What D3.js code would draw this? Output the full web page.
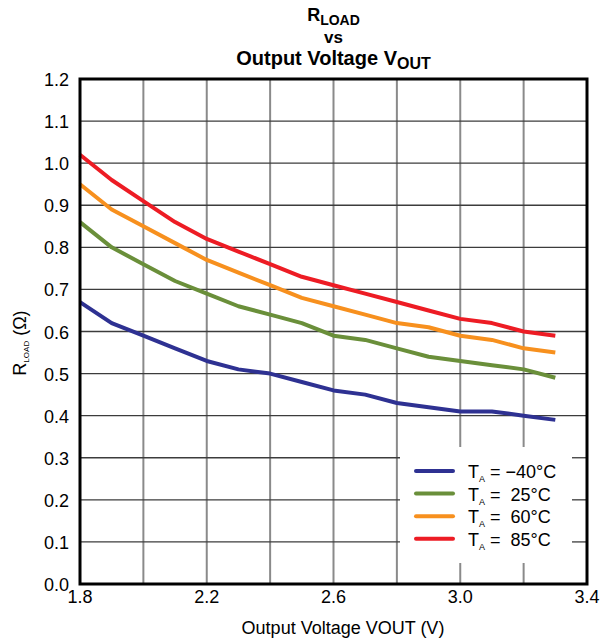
<!DOCTYPE html>
<html lang="en">
<head>
  <meta charset="UTF-8" />
  <title>RLOAD vs Output Voltage</title>
  <script src="https://d3js.org/d3.v7.min.js"></script>
  <style>
    body { margin: 0; background: #fff; }
    svg { display: block; font-family: "Liberation Sans", Arial, sans-serif; }
    .tick-label { font-size: 18px; fill: #000; }
  </style>
</head>
<body>
  <svg id="chart" width="600" height="638"></svg>
  <script>
    // data
    const vout = [1.8, 1.9, 2.0, 2.1, 2.2, 2.3, 2.4, 2.5, 2.6, 2.7, 2.8, 2.9, 3.0, 3.1, 3.2, 3.3];
    const rMinus40 = [0.67, 0.62, 0.59, 0.56, 0.53, 0.51, 0.50, 0.48, 0.46, 0.45, 0.43, 0.42, 0.41, 0.41, 0.40, 0.39];
    const r25 = [0.86, 0.80, 0.76, 0.72, 0.69, 0.66, 0.64, 0.62, 0.59, 0.58, 0.56, 0.54, 0.53, 0.52, 0.51, 0.49];
    const r60 = [0.95, 0.89, 0.85, 0.81, 0.77, 0.74, 0.71, 0.68, 0.66, 0.64, 0.62, 0.61, 0.59, 0.58, 0.56, 0.55];
    const r85 = [1.02, 0.96, 0.91, 0.86, 0.82, 0.79, 0.76, 0.73, 0.71, 0.69, 0.67, 0.65, 0.63, 0.62, 0.60, 0.59];
    const seriesTemps = ["\u221240", "25", "60", "85"];
    const seriesColors = ["#2e3192", "#6a8f3a", "#f7901e", "#ed1c24"];
    const xTickLabels = ["1.8", "2.2", "2.6", "3.0", "3.4"];
    const xGrid = [2.0, 2.2, 2.4, 2.6, 2.8, 3.0, 3.2];
    const yTickLabels = ["0.0", "0.1", "0.2", "0.3", "0.4", "0.5", "0.6", "0.7", "0.8", "0.9", "1.0", "1.1", "1.2"];

    const series = [rMinus40, r25, r60, r85].map((vals, i) => ({
      temp: seriesTemps[i],
      color: seriesColors[i],
      points: vals.map((v, j) => [vout[j], v])
    }));

    const svg = d3.select("#chart");
    const pl = 80, pr = 587, pt = 79, pb = 584;

    const x = d3.scaleLinear().domain([1.8, 3.4]).range([pl, pr]);
    const y = d3.scaleLinear().domain([0, 1.2]).range([pb, pt]);

    // legend box area (gridlines are hidden behind it)
    const legBox = { x0: 400, x1: 572, y0: 447, y1: 563 };

    // grid
    const grid = svg.append("g");
    xGrid.forEach(v => {
      const px = x(v);
      const segs = (px > legBox.x0 && px < legBox.x1)
        ? [[pt, legBox.y0], [legBox.y1, pb]]
        : [[pt, pb]];
      segs.forEach(s => grid.append("line")
        .attr("x1", px).attr("x2", px).attr("y1", s[0]).attr("y2", s[1])
        .attr("stroke", "#8a8a8a").attr("stroke-width", 2));
    });
    yTickLabels.slice(1, -1).forEach(t => {
      const py = y(+t);
      const segs = (py > legBox.y0 && py < legBox.y1)
        ? [[pl, legBox.x0], [legBox.x1, pr]]
        : [[pl, pr]];
      segs.forEach(s => grid.append("line")
        .attr("x1", s[0]).attr("x2", s[1]).attr("y1", py).attr("y2", py)
        .attr("stroke", "#3c3c3c").attr("stroke-width", 1.3));
    });

    // curves
    const line = d3.line().x(d => x(d[0])).y(d => y(d[1]));
    svg.append("g").selectAll("path")
      .data(series)
      .join("path")
      .attr("d", d => line(d.points))
      .attr("fill", "none")
      .attr("stroke", d => d.color)
      .attr("stroke-width", 4)
      .attr("stroke-linejoin", "round");

    // frame
    svg.append("rect")
      .attr("x", pl).attr("y", pt)
      .attr("width", pr - pl).attr("height", pb - pt)
      .attr("fill", "none").attr("stroke", "#000").attr("stroke-width", 3);

    // tick labels
    svg.append("g").selectAll("text")
      .data(yTickLabels)
      .join("text")
      .attr("class", "tick-label")
      .attr("x", pl - 11)
      .attr("y", d => y(+d) + 7)
      .attr("text-anchor", "end")
      .text(d => d);

    svg.append("g").selectAll("text")
      .data(xTickLabels)
      .join("text")
      .attr("class", "tick-label")
      .attr("x", d => x(+d))
      .attr("y", 603)
      .attr("text-anchor", "middle")
      .text(d => d);

    // axis titles
    svg.append("text")
      .attr("x", 343).attr("y", 634)
      .attr("text-anchor", "middle")
      .attr("font-size", 18)
      .text("Output Voltage VOUT (V)");

    const yl = svg.append("text")
      .attr("transform", "translate(26,343) rotate(-90)")
      .attr("text-anchor", "middle")
      .attr("font-size", 18);
    yl.append("tspan").text("R");
    yl.append("tspan").attr("font-size", 8).attr("dy", 3).text("LOAD");
    yl.append("tspan").attr("dy", -3).text(" (\u03a9)");

    // title
    const tx = (pl + pr) / 2;
    const t1 = svg.append("text").attr("x", tx).attr("y", 21)
      .attr("text-anchor", "middle").attr("font-weight", "bold").attr("font-size", 18);
    t1.append("tspan").text("R");
    t1.append("tspan").attr("font-size", 14).attr("dy", 4).text("LOAD");
    svg.append("text").attr("x", tx).attr("y", 43)
      .attr("text-anchor", "middle").attr("font-weight", "bold").attr("font-size", 17)
      .text("vs");
    const t3 = svg.append("text").attr("x", tx).attr("y", 65)
      .attr("text-anchor", "middle").attr("font-weight", "bold").attr("font-size", 20);
    t3.append("tspan").text("Output Voltage V");
    t3.append("tspan").attr("font-size", 16).attr("dy", 4).text("OUT");

    // legend
    const legend = svg.append("g");
    series.forEach((s, i) => {
      const ly = 471 + i * 22.6;
      legend.append("line")
        .attr("x1", 416).attr("x2", 453).attr("y1", ly).attr("y2", ly)
        .attr("stroke", s.color).attr("stroke-width", 4).attr("stroke-linecap", "round");
      const lt = legend.append("text").attr("x", 468).attr("y", ly + 7).attr("font-size", 18)
        .style("white-space", "pre");
      lt.append("tspan").text("T");
      lt.append("tspan").attr("font-size", 9).attr("dy", 4).text("A");
      lt.append("tspan").attr("dy", -4)
        .text(s.temp.length < 3 ? " =  " + s.temp + "\u00b0C" : " = " + s.temp + "\u00b0C");
    });
  </script>
</body>
</html>
